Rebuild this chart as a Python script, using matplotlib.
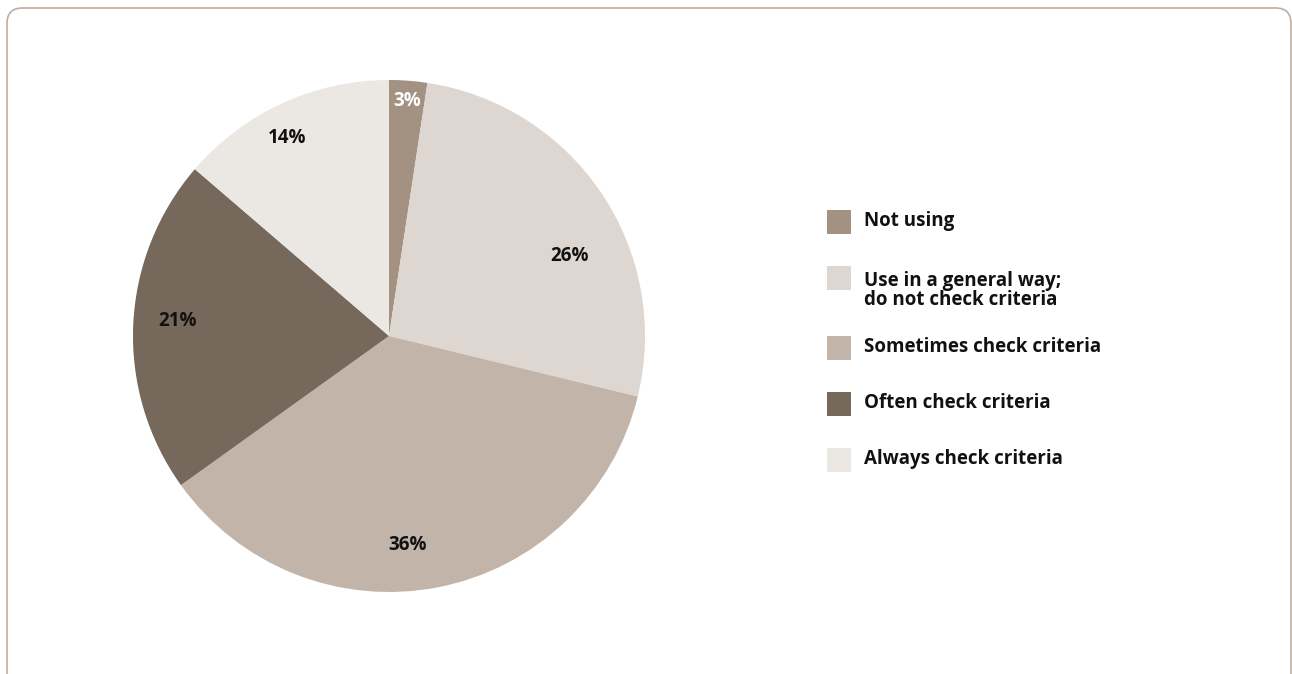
import matplotlib
matplotlib.use('Agg')
import numpy as np
import matplotlib.pyplot as plt
from matplotlib.patches import Rectangle, FancyBboxPatch

# survey answers, clockwise from the top
categories = ['Not using', 'Use in a general way;\ndo not check criteria',
              'Sometimes check criteria', 'Often check criteria', 'Always check criteria']
values = [2.4, 26.4, 36.3, 21.2, 13.7]
value_labels = ['3%', '26%', '36%', '21%', '14%']

colors = ['#a39182', '#ded6d0', '#c2b4a9', '#76685b', '#ebe7e2']
label_colors = ['white', '#111111', '#111111', '#111111', '#111111']
# where each label sits: radius fraction and angle shift (deg) from wedge middle
label_r = [0.92, 0.77, 0.82, 0.83, 0.87]
label_shift = [0, -10, -6, -1.5, 2.5]

plt.rcParams['font.family'] = ['Open Sans', 'DejaVu Sans']

W, H = 1292, 674
fig = plt.figure(figsize=(W / 100, H / 100), dpi=100)

# frame with rounded top corners, open at the bottom
frame = FancyBboxPatch((7 / W, -0.05), (W - 1 - 7) / W, (H - 8) / H + 0.05,
                       boxstyle='round,pad=0,rounding_size=0.012',
                       transform=fig.transFigure, facecolor='none',
                       edgecolor='#bcaea2', linewidth=1.2, mutation_aspect=W / H)
fig.patches.append(frame)

cx, cy, r = 389, 336, 256
ax = fig.add_axes([(cx - r) / W, (H - cy - r) / H, 2 * r / W, 2 * r / H])
wedges, _ = ax.pie(values, colors=colors, startangle=90, counterclock=False,
                   wedgeprops=dict(linewidth=0))
ax.set_xlim(-1, 1)
ax.set_ylim(-1, 1)
ax.set_aspect('equal')
ax.axis('off')

for w, txt, col, rr, sh in zip(wedges, value_labels, label_colors, label_r, label_shift):
    mid = np.deg2rad((w.theta1 + w.theta2) / 2 + sh)
    ax.text(rr * np.cos(mid), rr * np.sin(mid), txt, ha='center', va='center',
            color=col, fontsize=13.5, fontweight='bold')

# legend
sq = 24
y = 222
for cat, col in zip(categories, colors):
    fig.patches.append(Rectangle((827 / W, (H - y - sq / 2) / H), sq / W, sq / H,
                                 transform=fig.transFigure, facecolor=col, edgecolor='none'))
    if '\n' in cat:
        fig.text(864 / W, (H - y + 7) / H, cat, ha='left', va='top', fontsize=13.5,
                 fontweight='bold', color='#111111', linespacing=0.95)
    else:
        fig.text(864 / W, (H - y + 1) / H, cat, ha='left', va='center', fontsize=13.5,
                 fontweight='bold', color='#111111')
    y += 56 + 14 * cat.count('\n')

fig.savefig('out.png', dpi=100, facecolor='white')
